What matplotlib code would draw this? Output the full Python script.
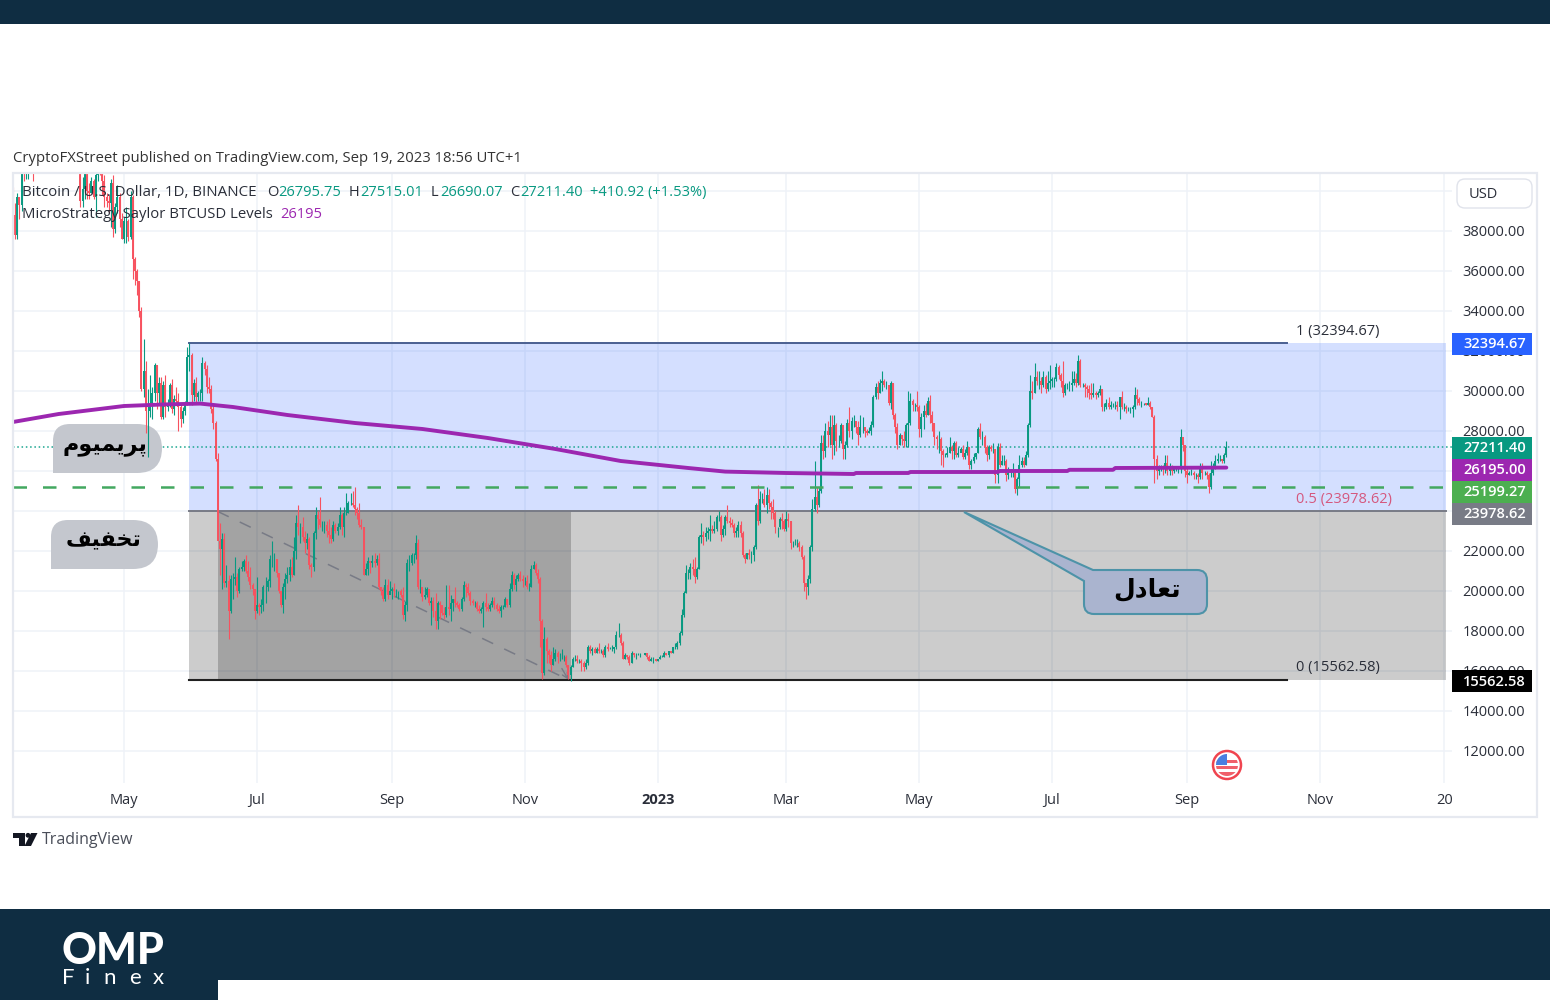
#!/usr/bin/env python3
"""BTCUSD daily chart with fib range and premium / discount callouts."""

import numpy as np
import pandas as pd
import matplotlib
matplotlib.use('Agg')
import matplotlib.pyplot as plt
import matplotlib.dates as mdates
from matplotlib.patches import Circle, PathPatch, Polygon, Rectangle
from matplotlib.path import Path

FONT = 'Open Sans'

# daily candles from 2022-03-11, thousands of USD, one line per month
closes_k = [
    38.8, 37.8, 39.7, 39.3, 41.1, 40.9, 41.8, 42.2, 41.3, 41.0, 42.4, 43.0, 44.0, 44.3, 44.5, 46.8, 47.1, 47.5, 47.1, 45.5, 46.3,
    45.8, 46.4, 46.6, 46.0, 46.6, 45.5, 43.2, 43.4, 42.3, 42.8, 39.5, 40.1, 41.1, 40.0, 39.9, 40.5, 39.7, 40.8, 41.5, 41.4, 40.5, 39.7, 39.5, 39.4, 40.4, 38.1, 39.2, 39.7, 38.6, 37.6,
    38.5, 38.5, 37.7, 39.7, 36.6, 36.0, 35.5, 34.0, 30.1, 31.0, 29.0, 29.0, 29.3, 29.9, 31.3, 29.9, 30.4, 28.7, 30.3, 29.2, 29.4, 30.3, 29.1, 29.6, 29.5, 29.2, 28.6, 29.0, 29.4, 31.7, 31.8,
    29.8, 30.4, 29.7, 29.9, 29.9, 31.4, 31.1, 30.2, 30.1, 29.1, 28.4, 26.6, 22.5, 22.1, 22.6, 20.4, 20.5, 19.0, 20.6, 20.6, 20.7, 20.0, 21.1, 21.2, 21.5, 21.0, 20.7, 20.3, 20.1, 19.0,
    19.3, 19.2, 19.3, 20.2, 20.2, 20.5, 21.6, 21.6, 21.6, 20.9, 20.0, 19.3, 20.2, 20.6, 20.8, 21.2, 20.8, 22.0, 23.4, 23.2, 23.2, 22.7, 22.4, 22.6, 21.3, 21.2, 22.9, 23.8, 23.6, 23.3, 23.3,
    23.3, 23.0, 22.8, 22.6, 23.3, 23.0, 23.2, 23.8, 23.2, 23.9, 23.9, 24.4, 24.4, 24.3, 24.1, 23.9, 23.3, 23.2, 20.8, 21.1, 21.5, 21.4, 21.5, 21.4, 21.6, 20.2, 20.0, 19.6, 20.3, 19.8, 20.0,
    20.1, 20.0, 20.0, 20.0, 19.8, 18.8, 19.3, 21.4, 21.4, 21.8, 21.8, 22.4, 20.2, 20.2, 19.7, 19.8, 20.1, 19.4, 19.5, 19.0, 18.5, 19.4, 19.3, 18.9, 18.8, 19.2, 19.1, 19.4, 19.6, 19.4,
    19.3, 19.1, 19.6, 20.3, 20.2, 19.9, 19.5, 19.4, 19.4, 19.1, 19.0, 19.1, 19.4, 19.2, 19.1, 19.3, 19.5, 19.3, 19.1, 19.0, 19.2, 19.2, 19.6, 19.3, 20.1, 20.8, 20.3, 20.6, 20.8, 20.6, 20.5,
    20.5, 20.2, 20.2, 21.1, 21.3, 20.9, 20.6, 18.5, 15.9, 17.6, 17.0, 16.8, 16.3, 16.6, 16.9, 16.7, 16.7, 16.7, 16.7, 16.3, 15.8, 16.2, 16.6, 16.6, 16.5, 16.5, 16.4, 16.2, 16.4, 17.2,
    17.0, 17.1, 16.9, 17.1, 17.0, 17.0, 16.8, 17.2, 17.1, 17.1, 17.1, 17.2, 17.8, 17.8, 17.4, 16.6, 16.8, 16.7, 16.4, 16.9, 16.8, 16.8, 16.8, 16.8, 16.8, 16.9, 16.7, 16.5, 16.6, 16.6, 16.5,
    16.6, 16.7, 16.7, 16.9, 16.8, 17.0, 16.9, 17.2, 17.2, 17.4, 17.9, 18.8, 19.9, 20.9, 20.9, 21.2, 21.1, 20.7, 21.1, 22.7, 22.8, 22.7, 22.9, 23.0, 23.1, 23.0, 23.1, 23.7, 23.7, 22.8, 23.1,
    23.7, 23.5, 23.4, 23.3, 22.9, 23.0, 23.3, 22.9, 21.8, 21.6, 21.9, 21.8, 21.8, 22.2, 24.3, 23.5, 24.6, 24.6, 24.3, 24.8, 24.4, 24.2, 23.9, 23.2, 23.2, 23.6, 23.5, 23.1,
    23.6, 23.5, 22.4, 22.4, 22.4, 22.4, 22.2, 21.7, 20.4, 20.2, 20.6, 22.2, 24.1, 24.7, 24.3, 25.0, 27.4, 27.0, 28.0, 27.8, 28.2, 27.3, 28.3, 27.5, 27.5, 28.3, 27.1, 27.3, 28.4, 28.0, 28.5,
    28.5, 28.2, 27.8, 28.2, 28.2, 28.0, 27.9, 28.0, 28.3, 29.7, 30.2, 29.9, 30.4, 30.5, 30.3, 30.3, 29.4, 30.4, 28.8, 28.2, 27.3, 27.8, 27.6, 27.5, 28.3, 28.4, 29.5, 29.3, 29.3, 29.2,
    28.1, 28.7, 29.0, 28.8, 29.5, 28.8, 28.4, 27.7, 27.6, 27.6, 27.0, 26.8, 26.8, 26.9, 27.2, 27.0, 27.4, 26.8, 26.9, 27.1, 26.7, 26.9, 27.2, 26.3, 26.5, 26.7, 26.9, 28.1, 27.7, 27.7, 27.2,
    26.8, 27.2, 27.1, 27.1, 25.8, 27.2, 26.3, 26.5, 26.5, 25.8, 25.9, 25.9, 25.9, 25.1, 25.6, 26.3, 26.5, 26.3, 26.8, 28.3, 30.0, 29.9, 30.7, 30.5, 30.5, 30.3, 30.7, 30.1, 30.4, 30.5,
    30.6, 30.6, 31.2, 30.8, 30.5, 29.9, 30.3, 30.3, 30.3, 30.4, 30.6, 30.4, 31.5, 30.3, 30.3, 30.2, 30.1, 29.9, 29.8, 29.9, 29.8, 29.9, 30.1, 29.2, 29.2, 29.4, 29.2, 29.3, 29.3, 29.3, 29.2,
    29.7, 29.2, 29.2, 29.1, 29.1, 29.1, 29.2, 29.8, 29.6, 29.4, 29.4, 29.4, 29.3, 29.4, 29.2, 28.7, 26.6, 26.0, 26.1, 26.2, 26.1, 26.4, 26.0, 26.2, 26.0, 26.1, 26.1, 26.1, 27.7, 27.3, 26.0,
    25.8, 25.9, 25.9, 25.8, 25.8, 25.7, 26.2, 25.9, 25.9, 25.8, 25.2, 25.9, 26.2, 26.5, 26.6, 26.6, 26.5, 26.8, 27.2,
]
highs_k = [
    40.2, 39.4, 39.9, 39.7, 41.5, 41.5, 42.3, 42.4, 42.3, 41.7, 43.3, 43.4, 44.2, 44.8, 45.0, 46.9, 48.1, 48.0, 47.6, 47.5, 47.6,
    46.7, 47.0, 47.4, 46.9, 47.2, 45.8, 43.9, 43.9, 42.8, 43.0, 42.4, 40.7, 41.5, 41.6, 40.4, 40.7, 40.6, 41.1, 41.7, 42.2, 42.9, 40.8, 39.9, 39.8, 40.6, 40.8, 39.4, 40.3, 39.9, 38.9,
    38.7, 39.2, 38.6, 40.0, 39.8, 36.7, 36.1, 35.5, 34.2, 32.6, 31.5, 30.1, 30.8, 30.2, 31.4, 31.3, 30.7, 30.7, 30.5, 30.8, 29.6, 30.4, 30.6, 29.8, 30.2, 29.9, 29.4, 29.2, 29.5, 32.2, 32.4,
    31.9, 30.6, 30.7, 30.0, 30.1, 31.7, 31.5, 31.3, 30.7, 30.3, 29.4, 28.5, 26.9, 23.4, 22.9, 22.9, 21.3, 20.8, 20.8, 20.9, 21.7, 20.9, 21.2, 21.5, 21.6, 21.8, 21.5, 21.2, 20.4, 20.1,
    20.7, 19.4, 19.6, 20.3, 20.7, 20.6, 21.8, 22.5, 21.9, 21.6, 20.9, 20.0, 20.4, 20.9, 21.2, 21.6, 21.7, 22.7, 23.8, 24.3, 23.4, 23.7, 23.0, 22.9, 22.7, 21.4, 23.0, 24.2, 24.0, 24.7, 23.5,
    23.5, 23.5, 23.6, 23.2, 23.5, 23.4, 23.4, 24.2, 23.9, 24.2, 24.9, 24.5, 24.9, 25.0, 25.2, 24.2, 24.4, 23.6, 23.2, 21.4, 21.7, 21.5, 21.8, 21.9, 21.8, 21.9, 20.2, 20.2, 20.6, 20.6, 20.5,
    20.2, 20.4, 20.1, 20.0, 20.1, 20.2, 19.5, 21.6, 21.8, 21.9, 21.9, 22.8, 22.6, 20.6, 20.2, 20.2, 20.2, 20.1, 19.7, 19.7, 19.9, 19.5, 19.5, 19.2, 19.2, 20.3, 20.3, 19.8, 19.6, 20.2,
    19.5, 19.4, 19.7, 20.5, 20.4, 20.4, 20.0, 19.6, 19.5, 19.5, 19.3, 19.2, 19.5, 19.9, 19.4, 19.4, 19.7, 19.7, 19.4, 19.3, 19.3, 19.3, 19.7, 19.6, 20.4, 21.0, 20.9, 20.8, 20.9, 21.0, 20.8,
    20.7, 20.8, 20.4, 21.3, 21.5, 21.4, 21.1, 20.7, 18.6, 18.2, 17.7, 17.1, 17.0, 17.2, 17.1, 17.0, 16.9, 17.1, 16.8, 16.8, 16.3, 16.3, 16.7, 16.8, 16.8, 16.6, 16.6, 16.5, 16.6, 17.3,
    17.3, 17.2, 17.2, 17.2, 17.4, 17.1, 17.1, 17.3, 17.4, 17.2, 17.3, 17.2, 18.0, 18.4, 17.9, 17.5, 16.9, 16.8, 16.8, 17.0, 16.9, 16.9, 16.9, 16.9, 16.8, 16.9, 16.9, 16.8, 16.7, 16.7, 16.6,
    16.6, 16.8, 16.8, 17.0, 16.9, 17.0, 17.0, 17.2, 17.4, 17.5, 18.0, 19.1, 20.0, 21.3, 21.1, 21.4, 21.6, 21.7, 21.2, 22.8, 23.4, 23.0, 23.2, 23.2, 23.8, 23.3, 23.5, 23.8, 24.0, 23.8, 23.3,
    23.8, 24.3, 23.7, 23.6, 23.4, 23.2, 23.5, 23.5, 23.0, 21.9, 21.9, 22.1, 22.0, 22.3, 24.4, 25.3, 25.0, 24.9, 25.1, 25.2, 25.1, 24.5, 24.6, 24.0, 23.2, 23.7, 23.9, 23.6,
    24.0, 23.9, 23.5, 22.5, 22.6, 22.6, 22.5, 22.3, 21.8, 20.4, 20.8, 22.3, 24.6, 26.5, 25.2, 25.2, 27.8, 27.8, 28.4, 28.5, 28.8, 28.8, 28.8, 28.4, 27.8, 28.4, 28.0, 27.5, 28.6, 29.2, 28.7,
    28.8, 28.5, 28.5, 28.8, 28.7, 28.2, 28.1, 28.2, 28.5, 29.8, 30.4, 30.5, 30.6, 31.0, 30.6, 30.5, 30.3, 30.5, 30.4, 28.9, 28.4, 27.9, 27.8, 28.0, 28.4, 30.0, 29.9, 29.6, 29.4, 30.0,
    29.3, 28.9, 29.3, 29.4, 29.7, 29.8, 29.0, 28.4, 27.8, 28.0, 27.7, 27.1, 26.9, 27.2, 27.7, 27.3, 27.5, 27.5, 27.2, 27.2, 27.3, 27.1, 27.5, 27.2, 26.6, 26.9, 26.9, 28.2, 28.4, 28.0, 27.8,
    27.3, 27.3, 27.3, 27.4, 27.1, 27.4, 27.4, 26.8, 26.8, 26.6, 26.2, 26.1, 26.4, 26.1, 25.7, 26.8, 26.7, 26.7, 27.0, 28.4, 30.8, 30.5, 31.4, 31.0, 31.0, 30.7, 31.0, 30.8, 31.0, 31.3,
    30.7, 30.7, 31.4, 31.3, 30.9, 31.5, 30.4, 30.4, 30.5, 31.0, 31.0, 30.9, 31.8, 31.6, 30.4, 30.4, 30.3, 30.3, 30.4, 30.4, 30.0, 30.0, 30.3, 30.1, 29.4, 29.6, 29.7, 29.5, 29.4, 29.5, 29.5,
    29.7, 30.0, 29.4, 29.3, 29.2, 29.2, 29.3, 30.2, 30.1, 29.7, 29.5, 29.4, 29.4, 29.7, 29.5, 29.2, 28.8, 26.8, 26.3, 26.3, 26.3, 26.8, 26.8, 26.4, 26.3, 26.1, 26.2, 26.2, 28.1, 27.5, 27.2,
    26.2, 26.0, 26.1, 26.0, 25.9, 25.9, 26.4, 26.4, 26.0, 26.0, 25.9, 26.5, 26.4, 26.8, 26.9, 26.8, 26.6, 26.9, 27.5,
]
lows_k = [
    38.2, 37.6, 37.6, 38.6, 39.0, 40.5, 40.6, 40.6, 40.9, 40.5, 40.9, 42.0, 42.6, 43.6, 44.1, 44.4, 46.6, 46.6, 46.5, 45.2, 45.2,
    44.2, 45.6, 45.6, 45.2, 45.4, 45.2, 42.7, 42.7, 42.1, 42.0, 39.2, 39.2, 39.6, 39.6, 39.6, 39.9, 39.6, 38.7, 40.5, 40.8, 39.8, 39.2, 39.2, 38.9, 38.2, 37.7, 37.9, 38.9, 38.2, 37.6,
    37.4, 37.4, 37.5, 37.6, 35.6, 35.3, 34.8, 33.7, 30.0, 29.7, 27.9, 26.7, 28.7, 28.6, 29.5, 29.1, 29.4, 28.6, 28.6, 28.7, 29.0, 29.2, 28.9, 28.8, 29.3, 28.0, 28.2, 28.4, 28.8, 29.3, 31.0,
    29.3, 29.5, 29.4, 29.5, 29.5, 29.5, 30.8, 29.9, 29.9, 28.9, 28.1, 26.5, 22.6, 20.8, 20.1, 20.2, 20.2, 17.6, 18.9, 19.6, 20.3, 19.7, 19.9, 21.0, 21.0, 20.9, 20.5, 20.1, 19.8, 18.6,
    18.9, 18.8, 18.9, 19.0, 19.4, 20.0, 20.2, 21.2, 21.0, 20.7, 19.9, 19.2, 18.9, 19.6, 20.4, 20.5, 20.7, 20.8, 21.6, 22.8, 22.4, 22.5, 21.9, 22.1, 21.1, 20.7, 21.0, 22.6, 23.1, 23.2, 23.0,
    22.9, 22.7, 22.4, 22.4, 22.5, 22.9, 22.8, 23.1, 22.8, 22.7, 23.8, 23.9, 24.3, 24.2, 23.8, 23.6, 23.2, 23.1, 20.8, 20.8, 20.8, 20.9, 21.2, 21.2, 21.3, 20.1, 19.8, 19.5, 19.5, 19.6, 19.9,
    19.6, 19.7, 19.7, 19.6, 19.7, 18.6, 18.5, 19.0, 21.0, 21.3, 21.4, 21.6, 20.1, 19.9, 19.5, 19.6, 19.7, 19.3, 18.3, 18.7, 18.1, 18.1, 18.6, 18.8, 18.6, 18.7, 18.8, 18.5, 19.0, 19.2,
    19.2, 19.0, 19.0, 19.5, 19.7, 19.8, 19.3, 19.3, 19.2, 19.0, 18.9, 18.9, 18.2, 19.0, 19.0, 19.0, 19.2, 19.1, 19.0, 18.9, 18.7, 19.1, 19.2, 19.2, 19.2, 20.0, 20.1, 20.0, 20.5, 20.5, 20.2,
    20.3, 20.1, 20.0, 20.2, 21.1, 20.8, 20.4, 17.2, 15.6, 15.8, 16.4, 16.4, 16.0, 16.3, 16.5, 16.4, 16.5, 16.6, 16.5, 16.2, 15.6, 15.5, 16.2, 16.5, 16.4, 16.4, 16.0, 16.0, 16.1, 16.3,
    16.9, 16.8, 16.9, 16.9, 16.9, 16.9, 16.7, 16.7, 17.0, 17.1, 17.0, 16.9, 17.1, 17.7, 17.3, 16.6, 16.6, 16.6, 16.3, 16.4, 16.7, 16.6, 16.8, 16.7, 16.8, 16.8, 16.6, 16.5, 16.5, 16.4, 16.5,
    16.5, 16.6, 16.7, 16.7, 16.8, 16.7, 16.9, 16.9, 17.1, 17.1, 17.3, 17.8, 18.7, 19.9, 20.6, 20.6, 20.8, 20.4, 20.6, 21.1, 22.4, 22.3, 22.5, 22.6, 22.5, 22.9, 22.9, 23.0, 23.5, 22.5, 22.7,
    22.8, 23.4, 23.2, 23.2, 22.7, 22.7, 22.7, 22.7, 21.7, 21.4, 21.6, 21.6, 21.4, 21.5, 22.1, 23.3, 23.4, 24.4, 24.2, 23.9, 24.1, 23.6, 23.6, 22.9, 22.7, 23.1, 23.1, 23.0,
    23.0, 23.2, 22.1, 22.2, 22.3, 22.2, 22.0, 21.6, 20.0, 19.6, 19.8, 20.4, 22.0, 24.0, 23.9, 24.2, 24.9, 26.6, 26.7, 27.2, 27.3, 26.6, 26.8, 27.0, 27.2, 27.4, 26.6, 26.6, 27.2, 27.7, 27.6,
    28.2, 27.9, 27.3, 27.7, 27.9, 27.7, 27.8, 27.9, 27.8, 28.2, 29.6, 29.6, 29.9, 30.0, 30.2, 30.1, 29.3, 29.1, 28.6, 27.9, 27.1, 27.3, 27.3, 27.2, 27.2, 27.2, 28.3, 29.0, 29.0, 29.0,
    27.7, 27.7, 28.1, 28.7, 28.8, 28.4, 28.0, 27.3, 27.1, 26.9, 26.3, 26.2, 26.7, 26.7, 26.9, 26.6, 26.6, 26.7, 26.7, 27.0, 26.6, 26.6, 26.8, 26.1, 26.1, 26.4, 26.6, 26.9, 27.6, 27.3, 26.9,
    26.5, 26.6, 27.0, 26.9, 25.4, 25.4, 26.2, 26.3, 26.3, 25.5, 25.6, 25.7, 25.7, 24.9, 24.8, 25.2, 26.2, 26.2, 26.3, 26.7, 28.2, 29.6, 29.9, 30.3, 30.1, 29.9, 30.2, 29.9, 30.0, 30.1,
    30.2, 30.2, 30.5, 30.6, 30.2, 29.7, 29.8, 30.1, 30.0, 30.0, 30.3, 30.2, 30.3, 30.2, 30.2, 29.7, 29.7, 29.6, 29.6, 29.7, 29.6, 29.7, 29.8, 29.0, 29.0, 29.1, 29.1, 29.1, 29.2, 29.1, 29.0,
    28.6, 29.1, 29.0, 28.9, 29.0, 28.9, 28.7, 29.1, 29.3, 29.3, 29.2, 29.3, 29.3, 29.3, 29.1, 28.7, 25.4, 25.6, 25.8, 26.0, 25.8, 25.9, 25.8, 25.8, 25.8, 25.9, 26.0, 25.9, 25.9, 27.0, 25.7,
    25.4, 25.8, 25.8, 25.6, 25.6, 25.4, 25.6, 25.6, 25.8, 25.6, 24.9, 25.1, 25.8, 26.1, 26.4, 26.5, 26.4, 26.4, 26.7,
]
first_date = '2022-03-11'
first_open_k = 39.4

# Saylor cost level line
level_dates = ['2022-03-11', '2022-04-01', '2022-05-01', '2022-05-20', '2022-06-05', '2022-06-20',
               '2022-07-15', '2022-08-15', '2022-09-15', '2022-10-15', '2022-11-15', '2022-12-15',
               '2023-01-15', '2023-02-01', '2023-03-01', '2023-04-01', '2023-04-02', '2023-04-26',
               '2023-04-27', '2023-06-06', '2023-06-07', '2023-07-08', '2023-07-09', '2023-07-29',
               '2023-07-30', '2023-09-19']
level_k = [28.45, 28.85, 29.25, 29.33, 29.37, 29.20, 28.80, 28.40, 28.10, 27.65, 27.10, 26.50,
           26.15, 25.97, 25.90, 25.85, 25.90, 25.90, 25.95, 25.95, 26.00, 26.00, 26.06, 26.06,
           26.15, 26.17]

fib_top = 32394.67
fib_mid = 23978.62
fib_bottom = 15562.58
support = 25199.27
last_price = 27211.40
level_last = 26195.00

price_ticks = list(range(12000, 42000, 2000))
date_ticks = ['2022-05-01', '2022-07-01', '2022-09-01', '2022-11-01', '2023-01-01', '2023-03-01',
              '2023-05-01', '2023-07-01', '2023-09-01', '2023-11-01', '2023-12-28']
date_labels = ['May', 'Jul', 'Sep', 'Nov', '2023', 'Mar', 'May', 'Jul', 'Sep', 'Nov', '20']

# persian labels, presentation forms in visual order since matplotlib has no shaping
label_premium = '\uFEE1\uFEEE\uFBFF\uFEE4\uFBFE\uFEAE\uFB58'
label_discount = '\uFED2\uFBFF\uFED4\uFEA8\uFE97'
label_balance = '\uFEDD\uFEA9\uFE8E\uFECC\uFE97'

NAVY = '#0f2d42'
UP = '#089981'
DOWN = '#f7525f'
PURPLE = '#9c27b0'
GREEN = '#4caf50'
GREY = '#787b86'
INK = '#2a2e39'


def bubble_path(x0, y0, x1, y1, r_left, r_right):
    """Rounded box with a square bottom-left corner, in pixels."""
    verts = [(x0, y1), (x0, y0 + r_left), (x0, y0), (x0 + r_left, y0),
             (x1 - r_right, y0), (x1, y0), (x1, y0 + r_right),
             (x1, y1 - r_right), (x1, y1), (x1 - r_right, y1),
             (x0, y1), (x0, y1)]
    codes = [Path.MOVETO, Path.LINETO, Path.CURVE3, Path.CURVE3,
             Path.LINETO, Path.CURVE3, Path.CURVE3,
             Path.LINETO, Path.CURVE3, Path.CURVE3,
             Path.LINETO, Path.CLOSEPOLY]
    return Path(verts, codes)


def callout_path():
    """Balance label with its tail pointing at the mid fib line."""
    r = 10
    x0, y0, x1, y1 = 1084, 570, 1207, 614
    verts = [(964, 512), (1093, y0), (x1 - r, y0), (x1, y0), (x1, y0 + r),
             (x1, y1 - r), (x1, y1), (x1 - r, y1), (x0 + r, y1), (x0, y1), (x0, y1 - r),
             (x0, 581), (964, 512)]
    codes = [Path.MOVETO, Path.LINETO, Path.LINETO, Path.CURVE3, Path.CURVE3,
             Path.LINETO, Path.CURVE3, Path.CURVE3, Path.LINETO, Path.CURVE3, Path.CURVE3,
             Path.LINETO, Path.CLOSEPOLY]
    return Path(verts, codes)


fig = plt.figure(figsize=(15.5, 10), dpi=100, facecolor='white')
ax = fig.add_axes([13 / 1550, 1 - 783 / 1000, (1452 - 13) / 1550, (783 - 173) / 1000], zorder=2)
px = fig.add_axes([0, 0, 1, 1], zorder=5)
px.set_xlim(0, 1550)
px.set_ylim(1000, 0)
px.axis('off')
px.patch.set_alpha(0)

may_first = mdates.date2num(pd.Timestamp('2022-05-01'))
ax.set_xlim(may_first - 50.96, may_first + 609.6)
ax.set_ylim(10400, 40900)
ax.set_facecolor('white')
for side in ax.spines.values():
    side.set_visible(False)

ax.set_yticks(price_ticks)
ax.set_yticklabels([f'{p:.2f}' for p in price_ticks], fontsize=10.5, family=FONT, color=INK)
ax.yaxis.tick_right()
ax.tick_params(axis='y', length=0, pad=7.5)
ax.set_xticks([mdates.date2num(pd.Timestamp(d)) for d in date_ticks])
ax.set_xticklabels(date_labels, fontsize=10.5, family=FONT, color=INK)
ax.get_xticklabels()[4].set_fontweight('bold')
ax.tick_params(axis='x', length=0, pad=7.5)
ax.grid(True, color='#eff2f8', linewidth=1.1, zorder=0)
ax.set_axisbelow(True)

# fib range and date range boxes
left = mdates.date2num(pd.Timestamp('2022-05-31'))
right = mdates.date2num(pd.Timestamp('2023-12-29'))
line_end = mdates.date2num(pd.Timestamp('2023-10-17'))
low_day = mdates.date2num(pd.Timestamp('2022-11-21'))
drop_day = mdates.date2num(pd.Timestamp('2022-06-13'))
ax.fill_between([left, right], fib_mid, fib_top, color='#2962ff', alpha=0.2, linewidth=0, zorder=1)
ax.fill_between([left, right], fib_bottom, fib_mid, color='black', alpha=0.2, linewidth=0, zorder=1)
ax.fill_between([drop_day, low_day + 1], fib_bottom, fib_mid, color='black', alpha=0.2, linewidth=0, zorder=1)
ax.plot([left, line_end], [fib_top, fib_top], color='#4a5f90', lw=1.4, zorder=2)
ax.plot([left, right], [fib_mid, fib_mid], color=GREY, lw=1.4, zorder=2)
ax.plot([left, line_end], [fib_bottom, fib_bottom], color='#202020', lw=1.5, zorder=2)
ax.plot([drop_day, low_day], [fib_mid, fib_bottom], color=GREY, lw=1.1, dashes=(8, 8), zorder=2)
ax.annotate('', xy=(low_day, fib_bottom), xytext=(low_day - 3, fib_bottom + 560),
            arrowprops=dict(arrowstyle='->', color=GREY, lw=1, shrinkA=0, shrinkB=0), zorder=2)

# last price and support levels
ax.axhline(last_price, color='#1aa58f', lw=1.1, dashes=(1, 1.8), zorder=2)
ax.plot([ax.get_xlim()[0], right], [support, support], color='#43a860', lw=1.8, dashes=(5.4, 6.4), zorder=4)
ax.plot([mdates.date2num(pd.Timestamp(d)) for d in level_dates], np.array(level_k) * 1000,
        color=PURPLE, lw=2.8, zorder=5, solid_capstyle='round')

# grey labels sit above the dotted line, under the candles
ax.add_patch(PathPatch(bubble_path(53, 424, 162, 473, 17, 25), transform=px.transData,
                       facecolor='#c4c7ce', edgecolor='none', zorder=2.5, clip_on=False))
ax.add_patch(PathPatch(bubble_path(51, 520, 158, 569, 17, 25), transform=px.transData,
                       facecolor='#c4c7ce', edgecolor='none', zorder=2.5, clip_on=False))

# candles
closes = np.array(closes_k) * 1000
highs = np.array(highs_k) * 1000
lows = np.array(lows_k) * 1000
opens = np.concatenate([[first_open_k * 1000], closes[:-1]])
days = mdates.date2num(pd.date_range(first_date, periods=len(closes)))
bar_colors = [UP if c >= o else DOWN for o, c in zip(opens, closes)]
ax.vlines(days, lows, highs, colors=bar_colors, linewidth=0.8, zorder=3)
ax.vlines(days, np.minimum(opens, closes), np.maximum(opens, closes), colors=bar_colors, linewidth=1.4, zorder=3)


def label(x, y, s, color=INK, size=10.7, ha='left', weight='normal', family=FONT):
    # va center sits a bit high for these fonts
    px.text(x, y + 1.5, s, color=color, fontsize=size, ha=ha, va='center', fontweight=weight, family=family)


# frame and header
px.add_patch(Rectangle((13, 173), 1524, 644, fill=False, edgecolor='#e6e9f0', lw=1.6))
label(13, 157, 'CryptoFXStreet published on TradingView.com, Sep 19, 2023 18:56 UTC+1', color='#333333')
label(22, 191, 'Bitcoin / U.S. Dollar, 1D, BINANCE', size=10.9)
for x, s, c in [(267, 'O', INK), (278, '26795.75', UP), (349, 'H', INK), (360, '27515.01', UP),
                (431, 'L', INK), (440, '26690.07', UP), (510, 'C', INK), (520, '27211.40', UP),
                (590, '+410.92 (+1.53%)', UP)]:
    label(x, 191, s, color=c, size=10.5)
label(22, 213, 'MicroStrategy Saylor BTCUSD Levels')
label(280, 213, '26195', color=PURPLE, size=10.5)

# USD button
px.add_patch(PathPatch(Path([(1465, 179), (1524, 179), (1532, 179), (1532, 187), (1532, 200), (1532, 208),
                             (1524, 208), (1465, 208), (1457, 208), (1457, 200), (1457, 187), (1457, 179),
                             (1465, 179), (1465, 179)],
                            [1, 2, 3, 3, 2, 3, 3, 2, 3, 3, 2, 3, 3, 79]),
                       facecolor='white', edgecolor='#e0e3eb', lw=1))
label(1469, 193, 'USD', size=10.5)

# price tags, stacked so they do not overlap
for value, y, color in [(fib_top, 344, '#2962ff'), (last_price, 448, UP), (level_last, 470, PURPLE),
                        (support, 492, GREEN), (fib_mid, 514, GREY), (fib_bottom, 681, 'black')]:
    px.add_patch(Rectangle((1452, y - 11), 80, 22, facecolor=color, edgecolor='none'))
    label(1463, y - 1, f'{value:.2f}', color='white', weight='semibold', size=10.5)

# fib labels
label(1296, 330, '1 (32394.67)', size=10.5)
label(1296, 498, '0.5 (23978.62)', color='#d5587e', size=10.5)
label(1296, 666, '0 (15562.58)', size=10.5)

# persian callouts
px.add_patch(PathPatch(callout_path(), facecolor='#aab4cf', edgecolor='#4d93a8', lw=1.5))
label(105, 444, label_premium, color='black', size=16, ha='center', weight='bold', family='DejaVu Sans')
label(104, 539, label_discount, color='black', size=16, ha='center', weight='bold', family='DejaVu Sans')
label(1147, 588, label_balance, color='black', size=18, ha='center', weight='bold', family='DejaVu Sans')

# us flag event marker
flag_clip = Circle((1227, 765), 11, transform=px.transData)
px.add_patch(Circle((1227, 765), 14, facecolor='white', edgecolor='#f0444f', lw=1.8))
for x, y, w, h, c in [(1216, 754, 22, 22, 'white'), (1216, 760, 22, 2.5, '#f0606a'),
                      (1216, 766, 22, 3, '#f0606a'), (1216, 772, 22, 4, '#f0606a'),
                      (1216, 754, 11, 11, '#4a7fe0')]:
    px.add_patch(Rectangle((x, y), w, h, facecolor=c, edgecolor='none', clip_path=flag_clip))

# tradingview mark
px.add_patch(Polygon([(13, 833), (25, 833), (25, 846), (19, 846), (19, 838), (13, 838)], facecolor='#131722'))
px.add_patch(Circle((28, 835.3), 2.4, facecolor='#131722', edgecolor='none'))
px.add_patch(Polygon([(31, 833), (37.5, 833), (31, 846), (24.5, 846)], facecolor='#131722'))
label(42, 839, 'TradingView', color='#4a4e59', size=11.5)

# page bands and logo
px.add_patch(Rectangle((0, 0), 1550, 24, facecolor=NAVY, edgecolor='none'))
px.add_patch(Rectangle((0, 909), 1550, 91, facecolor=NAVY, edgecolor='none'))
px.add_patch(Rectangle((218, 980), 1332, 20, facecolor='white', edgecolor='none'))
px.text(113, 951, 'OMP', color='white', fontsize=31, ha='center', va='center', fontweight='black', family='Lato')
for x, s in [(68, 'F'), (87, 'i'), (110, 'n'), (135, 'e'), (158, 'x')]:
    px.text(x, 978, s, color='white', fontsize=16, ha='center', va='center', fontweight='normal', family='Lato')

plt.savefig('out.png', dpi=100)
